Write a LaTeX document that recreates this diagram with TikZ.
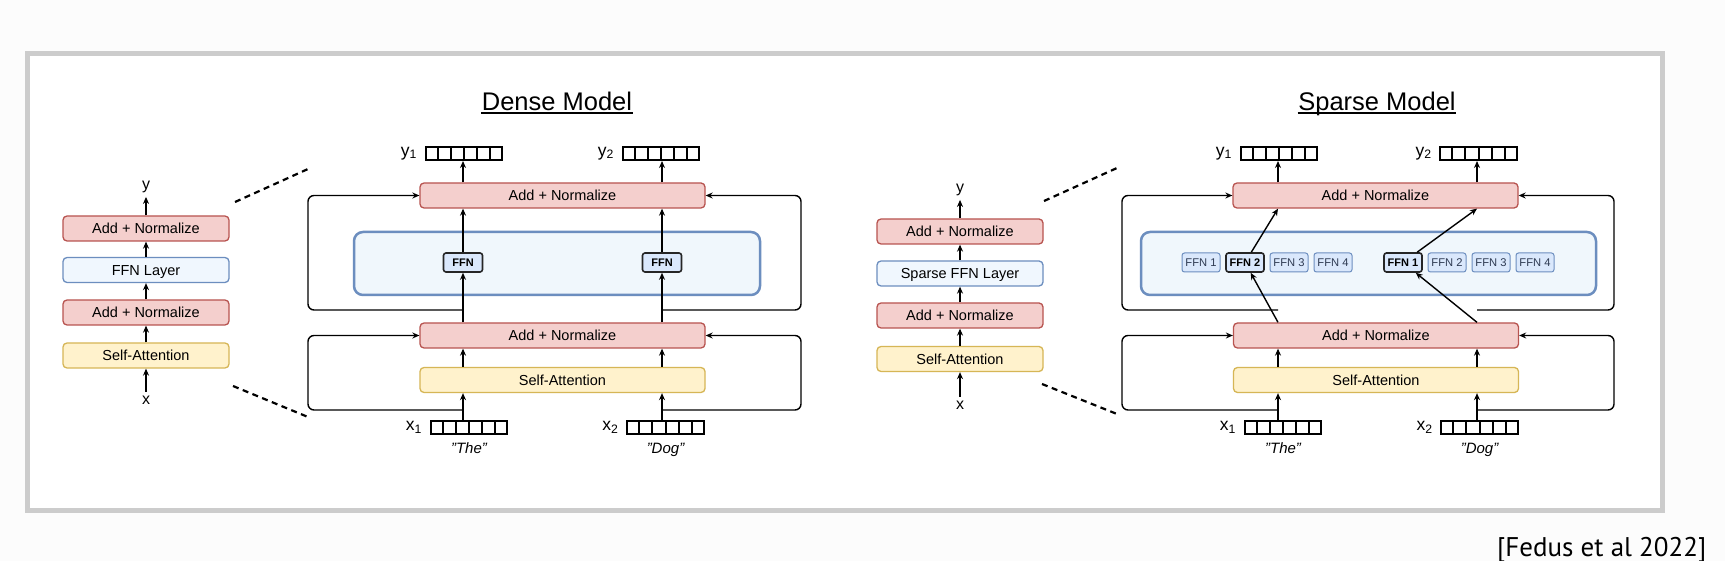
\documentclass[tikz,border=0pt]{standalone}
\usepackage{fontspec}
\setmainfont{Liberation Sans}
\newfontfamily\citefont{PT Sans}
\usepackage{xcolor}
\usetikzlibrary{arrows.meta,positioning,shapes.multipart}

\definecolor{bgout}{HTML}{FCFCFC}
\definecolor{framegray}{HTML}{CCCCCC}
\definecolor{anfill}{HTML}{F4CFCD}
\definecolor{andraw}{HTML}{B85450}
\definecolor{safill}{HTML}{FFF2CC}
\definecolor{sadraw}{HTML}{D6B656}
\definecolor{ffnfill}{HTML}{F0F7FE}
\definecolor{ffndraw}{HTML}{6C8EBF}
\definecolor{moefill}{HTML}{F0F7FC}
\definecolor{expfill}{HTML}{DAE8FC}
\definecolor{exptext}{HTML}{2E3A52}

\begin{document}
\begin{tikzpicture}[x=1pt,y=-1pt,->,>={Stealth[length=7pt,width=6pt]},line width=1.4pt,font=\fontsize{14.5}{17}\selectfont]
    \tikzstyle{block}=[rectangle, rounded corners=4pt, line width=1.3pt, minimum height=25pt, inner sep=0pt, text height=10.5pt, text depth=0pt]
    \tikzstyle{addnorm}=[block, fill=anfill, draw=andraw]
    \tikzstyle{selfatt}=[block, fill=safill, draw=sadraw]
    \tikzstyle{ffnlayer}=[block, fill=ffnfill, draw=ffndraw]
    \tikzstyle{moebox}=[rectangle, rounded corners=9pt, fill=moefill, draw=ffndraw, line width=2.5pt]
    \tikzstyle{expert}=[rectangle, rounded corners=2.5pt, fill=expfill, draw=ffndraw, line width=1pt, minimum width=38pt, minimum height=19pt, inner sep=0pt, text height=8pt, text depth=0pt, text=exptext, font=\fontsize{11.2}{12}\selectfont]
    \tikzstyle{expertsel}=[expert, draw=black!85, line width=1.6pt, text=black, font=\fontsize{11}{12}\selectfont\bfseries]
    \tikzstyle{tokvec}=[rectangle split, rectangle split horizontal, rectangle split parts=6, draw=black, line width=2pt, inner sep=0pt, rectangle split empty part width=5.8pt, rectangle split empty part height=13pt, rectangle split empty part depth=0pt]
    \tikzstyle{veclabel}=[inner sep=0pt, font=\fontsize{17.5}{20}\selectfont]
    \tikzstyle{io}=[font=\fontsize{16}{18}\selectfont]
    \tikzstyle{word}=[inner sep=0pt, font=\fontsize{15}{17}\selectfont\itshape]
    \tikzstyle{title}=[inner sep=0pt, font=\fontsize{25.5}{30}\selectfont, anchor=base]
    \tikzstyle{zoomline}=[-, dash pattern=on 6pt off 4.5pt, line width=2.2pt]
    \tikzstyle{residual}=[rounded corners=6pt]

    % frame
    \useasboundingbox (0,0) rectangle (1725,561);
    \fill[bgout] (0,0) rectangle (1725,561);
    \draw[-, draw=framegray, fill=white, line width=5pt] (27.5,53.5) rectangle (1662.5,510.5);

    % dense: small stack
    \node[addnorm, minimum width=166pt] (dAN2) at (146,228.5) {Add + Normalize};
    \node[ffnlayer, minimum width=166pt] (dFF) at (146,270) {FFN Layer};
    \node[addnorm, minimum width=166pt] (dAN1) at (146,312.5) {Add + Normalize};
    \node[selfatt, minimum width=166pt] (dSA) at (146,355.5) {Self-Attention};
    \node[io] (dy) at (146,187) {y};
    \node[io] (dx) at (146,400) {x};
    \path (dx) edge (dSA);
    \path (dSA) edge (dAN1);
    \path (dAN1) edge (dFF);
    \path (dFF) edge (dAN2);
    \path (dAN2) edge (dy);
    \draw[zoomline] (235,202) -- (308,169);
    \draw[zoomline] (233,386) -- (308,417);

    % dense: expanded
    \node[title] (dTitle) at (557,110.5) {Dense Model};
    \draw[-, line width=1.8pt] ([yshift=-2.5pt]dTitle.base west) -- ([yshift=-2.5pt]dTitle.base east);
    \node[tokvec] (dY1) at (464,153.5) {};
    \node[tokvec] (dY2) at (661,153.5) {};
    \node[veclabel, left=7pt of dY1] (dY1l) {y\textsubscript{1}};
    \node[veclabel, left=7pt of dY2] (dY2l) {y\textsubscript{2}};
    \node[addnorm, minimum width=285pt] (dAN2m) at (562.5,195.5) {Add + Normalize};
    \node[moebox, minimum width=406pt, minimum height=63pt] (dMoE) at (557,263.5) {};
    \node[expertsel, minimum width=39pt] (dE1) at (463,262.5) {FFN};
    \node[expertsel, minimum width=39pt] (dE2) at (662,262.5) {FFN};
    \node[addnorm, minimum width=285pt] (dAN1m) at (562.5,335.5) {Add + Normalize};
    \node[selfatt, minimum width=285pt] (dSAm) at (562.5,380) {Self-Attention};
    \node[tokvec] (dX1) at (469,427.5) {};
    \node[tokvec] (dX2) at (665.5,427.5) {};
    \node[veclabel, left=7pt of dX1] (dX1l) {x\textsubscript{1}};
    \node[veclabel, left=7pt of dX2] (dX2l) {x\textsubscript{2}};
    \node[word, below=7pt of dX1] (dW1) {"The"};
    \node[word, below=7pt of dX2] (dW2) {"Dog"};

    \draw (dX1.north -| dE1) -- (dSAm.south -| dE1);
    \draw (dSAm.north -| dE1) -- (dAN1m.south -| dE1);
    \draw (dAN1m.north -| dE1) -- (dE1);
    \draw (dE1) -- (dAN2m.south -| dE1);
    \draw (dAN2m.north -| dE1) -- (dY1.south -| dE1);
    \draw (dX2.north -| dE2) -- (dSAm.south -| dE2);
    \draw (dSAm.north -| dE2) -- (dAN1m.south -| dE2);
    \draw (dAN1m.north -| dE2) -- (dE2);
    \draw (dE2) -- (dAN2m.south -| dE2);
    \draw (dAN2m.north -| dE2) -- (dY2.south -| dE2);

    \coordinate (dLeft) at (308,0);
    \coordinate (dRight) at (801,0);
    \coordinate (dUp1) at (463,310);
    \coordinate (dUp2) at (662,310);
    \coordinate (dLo1) at (463,410);
    \coordinate (dLo2) at (662,410);
    \draw[residual] (dUp1) -| (dLeft |- dAN2m.west) -- (dAN2m.west);
    \draw[residual] (dUp2) -| (dRight |- dAN2m.east) -- (dAN2m.east);
    \draw[residual] (dLo1) -| (dLeft |- dAN1m.west) -- (dAN1m.west);
    \draw[residual] (dLo2) -| (dRight |- dAN1m.east) -- (dAN1m.east);

    % sparse: small stack
    \node[addnorm, minimum width=166pt] (sAN2) at (960,231.5) {Add + Normalize};
    \node[ffnlayer, minimum width=166pt] (sFF) at (960,273.5) {Sparse FFN Layer};
    \node[addnorm, minimum width=166pt] (sAN1) at (960,315.5) {Add + Normalize};
    \node[selfatt, minimum width=166pt] (sSA) at (960,359) {Self-Attention};
    \node[io] (sy) at (960,190) {y};
    \node[io] (sx) at (960,405) {x};
    \path (sx) edge (sSA);
    \path (sSA) edge (sAN1);
    \path (sAN1) edge (sFF);
    \path (sFF) edge (sAN2);
    \path (sAN2) edge (sy);
    \draw[zoomline] (1044,201) -- (1117,168);
    \draw[zoomline] (1042,384) -- (1117,414);

    % sparse: expanded
    \node[title] (sTitle) at (1377,110.5) {Sparse Model};
    \draw[-, line width=1.8pt] ([yshift=-2.5pt]sTitle.base west) -- ([yshift=-2.5pt]sTitle.base east);
    \node[tokvec] (sY1) at (1279,153.5) {};
    \node[tokvec] (sY2) at (1478.5,153.5) {};
    \node[veclabel, left=7pt of sY1] (sY1l) {y\textsubscript{1}};
    \node[veclabel, left=7pt of sY2] (sY2l) {y\textsubscript{2}};
    \node[addnorm, minimum width=285pt] (sAN2m) at (1375.5,195.5) {Add + Normalize};
    \node[moebox, minimum width=455pt, minimum height=63pt] (sMoE) at (1368.5,263.5) {};
    \node[expert] (sA1) at (1201,262.5) {FFN 1};
    \node[expertsel] (sA2) at (1245,262.5) {FFN 2};
    \node[expert] (sA3) at (1289,262.5) {FFN 3};
    \node[expert] (sA4) at (1333,262.5) {FFN 4};
    \node[expertsel] (sB1) at (1403,262.5) {FFN 1};
    \node[expert] (sB2) at (1447,262.5) {FFN 2};
    \node[expert] (sB3) at (1491,262.5) {FFN 3};
    \node[expert] (sB4) at (1535,262.5) {FFN 4};
    \node[addnorm, minimum width=285pt] (sAN1m) at (1376,335.5) {Add + Normalize};
    \node[selfatt, minimum width=285pt] (sSAm) at (1376,380) {Self-Attention};
    \node[tokvec] (sX1) at (1283,427.5) {};
    \node[tokvec] (sX2) at (1479.5,427.5) {};
    \node[veclabel, left=7pt of sX1] (sX1l) {x\textsubscript{1}};
    \node[veclabel, left=7pt of sX2] (sX2l) {x\textsubscript{2}};
    \node[word, below=7pt of sX1] (sW1) {"The"};
    \node[word, below=7pt of sX2] (sW2) {"Dog"};

    \coordinate (sCol1) at (1278,0);
    \coordinate (sCol2) at (1477,0);
    \draw (sX1.north -| sCol1) -- (sSAm.south -| sCol1);
    \draw (sSAm.north -| sCol1) -- (sAN1m.south -| sCol1);
    \draw (sAN1m.north -| sCol1) -- (sA2);
    \draw (sA2) -- (sAN2m.south -| sCol1);
    \draw (sAN2m.north -| sCol1) -- (sY1.south -| sCol1);
    \draw (sX2.north -| sCol2) -- (sSAm.south -| sCol2);
    \draw (sSAm.north -| sCol2) -- (sAN1m.south -| sCol2);
    \draw (sAN1m.north -| sCol2) -- (sB1);
    \draw (sB1) -- (sAN2m.south -| sCol2);
    \draw (sAN2m.north -| sCol2) -- (sY2.south -| sCol2);

    \coordinate (sLeft) at (1122,0);
    \coordinate (sRight) at (1614,0);
    \coordinate (sUp1) at (1278,310);
    \coordinate (sUp2) at (1477,310);
    \coordinate (sLo1) at (1278,410);
    \coordinate (sLo2) at (1477,410);
    \draw[residual] (sUp1) -| (sLeft |- sAN2m.west) -- (sAN2m.west);
    \draw[residual] (sUp2) -| (sRight |- sAN2m.east) -- (sAN2m.east);
    \draw[residual] (sLo1) -| (sLeft |- sAN1m.west) -- (sAN1m.west);
    \draw[residual] (sLo2) -| (sRight |- sAN1m.east) -- (sAN1m.east);

    % source
    \node[font=\citefont\fontsize{27}{30}\selectfont, anchor=base east, inner sep=0pt] (cite) at (1707,556) {[Fedus et al 2022]};
\end{tikzpicture}
\end{document}
